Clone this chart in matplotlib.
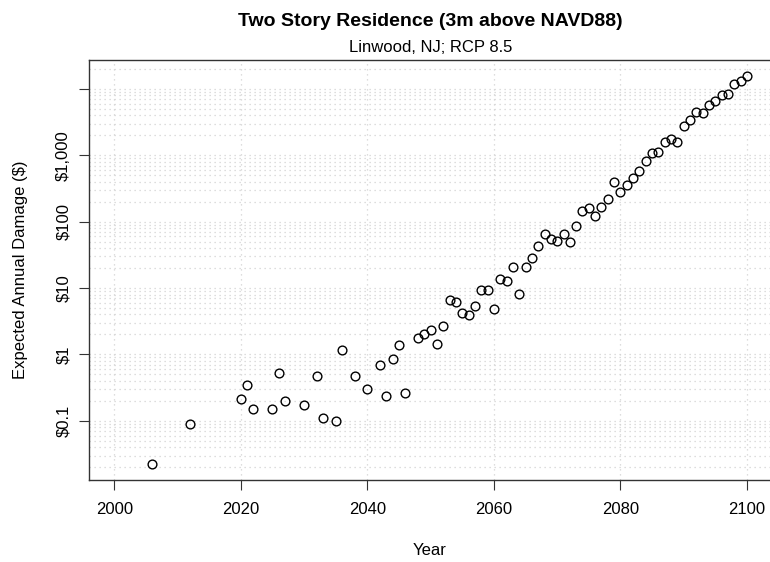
import matplotlib
matplotlib.use("Agg")
import matplotlib.pyplot as plt
from matplotlib.ticker import FixedLocator, LogLocator, NullFormatter
import numpy as np

# Expected annual damage by year, Linwood NJ, RCP 8.5
years = [2006, 2012, 2020, 2021, 2022, 2025, 2026, 2027, 2030, 2032,
         2033, 2035, 2036, 2038, 2040, 2042, 2043, 2044, 2045, 2046,
         2048, 2049, 2050, 2051, 2052, 2053, 2054, 2055, 2056, 2057,
         2058, 2059, 2060, 2061, 2062, 2063, 2064, 2065, 2066, 2067,
         2068, 2069, 2070, 2071, 2072, 2073, 2074, 2075, 2076, 2077,
         2078, 2079, 2080, 2081, 2082, 2083, 2084, 2085, 2086, 2087,
         2088, 2089, 2090, 2091, 2092, 2093, 2094, 2095, 2096, 2097,
         2098, 2099, 2100]
damage = [0.022, 0.088, 0.216, 0.35, 0.153, 0.153, 0.52, 0.198, 0.174, 0.475,
          0.11, 0.099, 1.16, 0.475, 0.306, 0.695, 0.238, 0.865, 1.37, 0.261,
          1.77, 2.03, 2.36, 1.44, 2.66, 6.53, 6.15, 4.25, 3.93, 5.42,
          9.23, 9.23, 4.83, 13.6, 12.7, 20.7, 8.2, 20.5, 28.2, 43.8,
          66.4, 55.8, 51.4, 66.4, 49.7, 85.5, 145, 163, 121, 167,
          223, 397, 285, 354, 456, 589, 832, 1083, 1137, 1585,
          1782, 1585, 2780, 3470, 4470, 4370, 5770, 6620, 8150, 8350,
          11800, 13250, 15950]

x_ticks = [2000, 2020, 2040, 2060, 2080, 2100]
y_ticks = [0.1, 1, 10, 100, 1000, 10000]
y_tick_labels = ["$0.1", "$1", "$10", "$100", "$1,000", ""]

plt.rcParams["font.family"] = ["Liberation Sans", "DejaVu Sans"]

W, H = 770, 562
fig = plt.figure(figsize=(W / 100, H / 100), dpi=100)

# x range 2000-2100 padded 4% each side, y padded 4% in log space
x_lo, x_hi = 2000, 2100
x_pad = 0.04 * (x_hi - x_lo)
ly = np.log10(damage)
y_pad = 0.04 * (ly.max() - ly.min())

left, right, top, bottom = 89, 772.3, 60, 480
ax = fig.add_axes([left / W, 1 - bottom / H, (right - left) / W, (bottom - top) / H])
ax.set_yscale("log")
ax.set_xlim(x_lo - x_pad, x_hi + x_pad)
ax.set_ylim(10 ** (ly.min() - y_pad), 10 ** (ly.max() + y_pad))

ax.yaxis.set_major_locator(FixedLocator(y_ticks))
ax.set_yticklabels(y_tick_labels, rotation=90, va="center")
ax.yaxis.set_minor_locator(LogLocator(base=10, subs=range(2, 10)))
ax.yaxis.set_minor_formatter(NullFormatter())
ax.set_xticks(x_ticks)

grid_kw = dict(color="#d3d3d3", linestyle=(0, (1, 3)), linewidth=0.9)
ax.grid(True, which="both", axis="y", **grid_kw)
ax.grid(True, which="major", axis="x", **grid_kw)
ax.set_axisbelow(True)

ax.tick_params(axis="both", which="major", direction="out", length=7, width=0.8,
               color="#333333", labelsize=12)
ax.tick_params(axis="x", pad=9)
ax.tick_params(axis="y", pad=6)
ax.tick_params(axis="y", which="minor", length=0)
for sp in ax.spines.values():
    sp.set_linewidth(1.0)
    sp.set_color("#333333")

ax.plot(years, damage, linestyle="none", marker="o", markersize=6.3,
        markerfacecolor="none", markeredgecolor="black", markeredgewidth=1.0)

ax.set_xlabel("Year", fontsize=12)
ax.xaxis.set_label_coords(0.5 * (770 - left) / (right - left), (bottom - 543) / (bottom - top))
ax.set_ylabel("Expected Annual Damage ($)", fontsize=12)
ax.yaxis.set_label_coords((27.6 - left) / (right - left), 0.5)

cx = 0.5 * (left + right) / W
fig.text(cx, 1 - 21 / H, "Two Story Residence (3m above NAVD88)",
         ha="center", va="center", fontsize=14, fontweight="bold")
fig.text(cx, 1 - 47 / H, "Linwood, NJ; RCP 8.5",
         ha="center", va="center", fontsize=12)

fig.savefig("out.png", dpi=100)
